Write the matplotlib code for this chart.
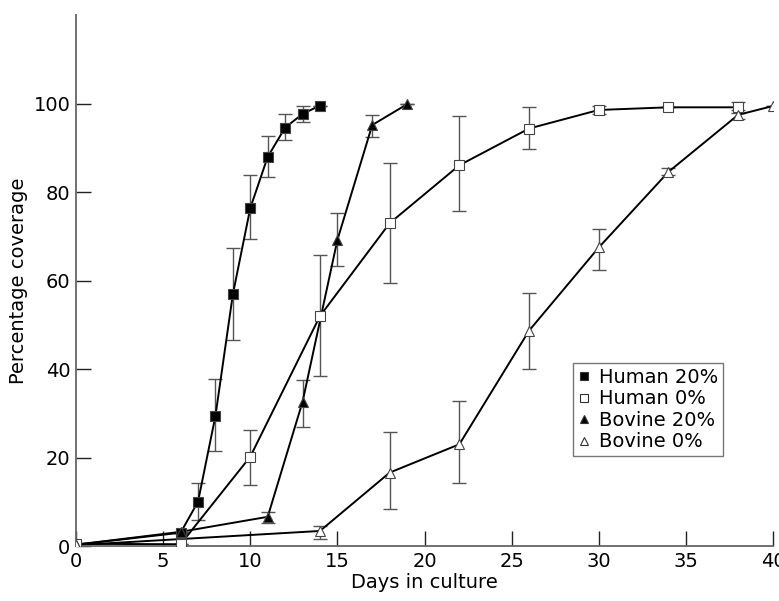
import matplotlib.pyplot as plt
from matplotlib.lines import Line2D

plt.rcParams['font.family'] = ['DejaVu Sans']

# Human serum 20%
h20_days = [0, 6, 7, 8, 9, 10, 11, 12, 13, 14]
h20_vals = [0.3, 3.0, 10.0, 29.4, 56.9, 76.4, 88.0, 94.6, 97.7, 99.6]
h20_lo = [0, 0, 4.1, 7.9, 10.3, 6.9, 4.6, 2.7, 1.8, 0]
h20_hi = [0, 0, 4.3, 8.3, 10.4, 7.6, 4.8, 3.1, 1.9, 0]

# Human serum 0%
h0_days = [0, 6, 10, 14, 18, 22, 26, 30, 34, 38]
h0_vals = [0.5, 0.4, 20.2, 52.0, 73.0, 86.1, 94.4, 98.6, 99.2, 99.2]
h0_lo = [0, 0, 6.4, 13.5, 13.6, 10.4, 4.7, 0.8, 0, 1.2]
h0_hi = [0, 0, 6.0, 13.7, 13.6, 11.1, 4.8, 0.8, 0, 1.2]

# Bovine serum 20%
b20_days = [0, 6, 11, 13, 15, 17, 19]
b20_vals = [0.3, 3.2, 6.6, 32.6, 69.2, 95.2, 99.9]
b20_lo = [0, 0, 1.4, 5.6, 5.8, 2.8, 0]
b20_hi = [0, 0, 1.2, 5.0, 6.1, 2.3, 0]

# Bovine serum 0%
b0_days = [0, 14, 18, 22, 26, 30, 34, 38, 40]
b0_vals = [0.2, 3.4, 16.6, 23.0, 48.7, 67.5, 84.6, 97.5, 99.5]
b0_lo = [0, 1.8, 8.3, 8.8, 8.7, 5.1, 0.8, 1.0, 0]
b0_hi = [0, 1.2, 9.2, 9.7, 8.5, 4.1, 0.8, 1.0, 0]

xticks = [0, 5, 10, 15, 20, 25, 30, 35, 40]
yticks = [0, 20, 40, 60, 80, 100]

fig = plt.figure(figsize=(7.79, 6.01), dpi=100)
ax = fig.add_axes([0.0976, 0.0915, 0.8947, 0.883])

series = [
    (h20_days, h20_vals, h20_lo, h20_hi, 's', 'black', 'Human 20%'),
    (h0_days, h0_vals, h0_lo, h0_hi, 's', 'white', 'Human 0%'),
    (b20_days, b20_vals, b20_lo, b20_hi, '^', 'black', 'Bovine 20%'),
    (b0_days, b0_vals, b0_lo, b0_hi, '^', 'white', 'Bovine 0%'),
]

handles = []
for days, vals, lo, hi, mk, fc, lab in series:
    ax.errorbar(days, vals, yerr=[lo, hi], fmt='none', ecolor='#555555',
                elinewidth=1.0, capsize=4.7, capthick=1.0, zorder=1)
    ax.plot(days, vals, color='black', linewidth=1.4, zorder=2)
    ax.plot(days, vals, linestyle='none', marker=mk, markersize=7.5 if mk == '^' else 6.8,
            markerfacecolor=fc, markeredgecolor='#444444', markeredgewidth=0.8, zorder=3)
    handles.append(Line2D([], [], linestyle='none', marker=mk, markersize=6,
                          markerfacecolor=fc, markeredgecolor='#333333',
                          markeredgewidth=0.8, label=lab))

ax.set_xlim(0, 40)
ax.set_ylim(0, 120)
ax.set_xticks(xticks)
ax.set_yticks(yticks)
ax.tick_params(direction='in', length=10.5, width=1.0, labelsize=14, color='#222222')
ax.tick_params(axis='x', pad=4)
ax.tick_params(axis='y', pad=4)

for side in ['top', 'right']:
    ax.spines[side].set_visible(False)
for side in ['left', 'bottom']:
    ax.spines[side].set_color('#666666')
    ax.spines[side].set_linewidth(1.3)

ax.set_xlabel('Days in culture', fontsize=14, labelpad=2)
ax.set_ylabel('Percentage coverage', fontsize=14, labelpad=4)

leg = ax.legend(handles=handles, loc='upper left', bbox_to_anchor=(0.713, 0.345),
                fontsize=14, frameon=True, fancybox=False, handlelength=0.6,
                handletextpad=0.5, labelspacing=0.13, borderpad=0.25, borderaxespad=0)
leg.get_frame().set_edgecolor('#555555')
leg.get_frame().set_linewidth(1.0)

fig.savefig('out.png', dpi=100)
